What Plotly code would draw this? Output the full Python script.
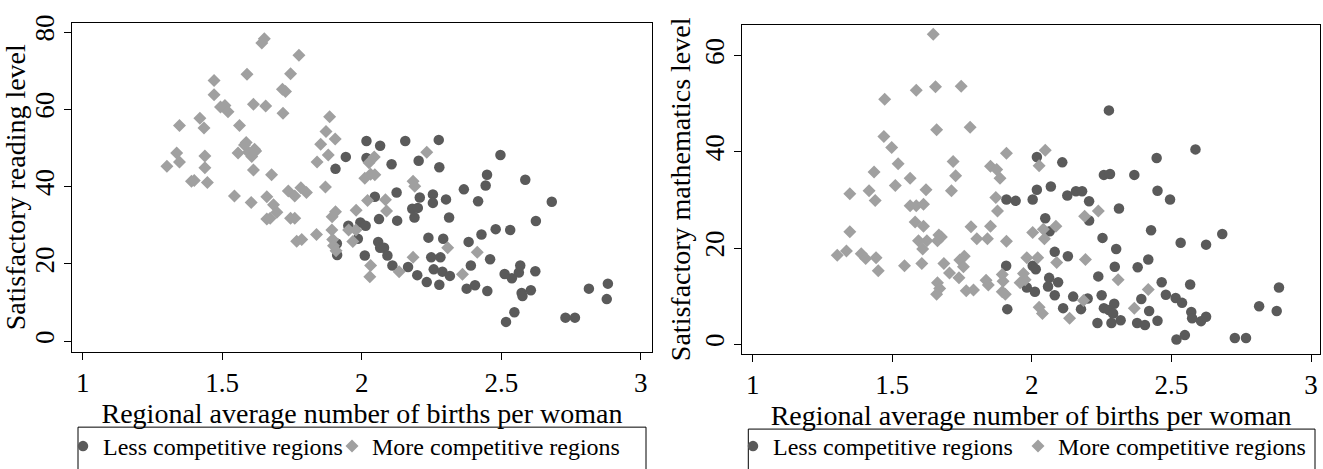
import plotly.graph_objects as go

# ---------------- Data: left panel (reading) ----------------
read_less_x = [1.906, 1.943, 1.911, 1.912, 2.017, 2.017, 2.066, 2.156, 2.276, 2.107, 2.204, 2.278,
               2.497, 2.449, 2.444, 2.586, 2.366, 2.417, 2.681, 2.624, 2.047, 2.125, 2.208, 2.255,
               2.255, 2.302, 2.181, 2.201, 2.189, 2.062, 2.127, 2.313, 1.952, 1.995, 2.014, 1.986,
               2.059, 2.066, 2.080, 2.092, 2.011, 2.239, 2.292, 2.383, 2.429, 2.480, 2.532, 2.249,
               2.282, 2.460, 2.110, 2.166, 2.199, 2.258, 2.289, 2.316, 2.233, 2.278, 2.391, 2.376,
               2.406, 2.450, 2.568, 2.512, 2.538, 2.563, 2.622, 2.606, 2.573, 2.576, 2.547, 2.517,
               2.730, 2.764, 2.814, 2.882, 2.878]
read_less_y = [44.6, 47.7, 25.3, 22.3, 51.8, 47.4, 50.6, 51.8, 52.1, 45.8, 46.7, 45.0,
               48.2, 43.1, 40.3, 41.8, 39.3, 36.2, 36.1, 31.1, 37.4, 38.5, 37.2, 38.0,
               35.8, 36.7, 34.3, 34.5, 32.0, 31.6, 31.2, 32.0, 29.9, 30.7, 29.9, 26.5,
               25.7, 24.2, 24.2, 22.2, 22.2, 26.8, 26.5, 25.7, 27.6, 29.0, 28.8, 21.7,
               21.7, 21.2, 19.6, 19.2, 17.1, 18.6, 18.0, 16.9, 15.3, 14.6, 19.6, 13.6,
               14.5, 13.0, 19.6, 17.4, 16.3, 17.8, 18.1, 13.2, 12.5, 11.7, 7.5, 5.0,
               6.1, 6.1, 13.6, 14.9, 10.9]

read_more_x = [1.302, 1.337, 1.347, 1.347, 1.390, 1.400, 1.420, 1.435, 1.438, 1.438, 1.447, 1.471,
               1.471, 1.494, 1.510, 1.521, 1.562, 1.544, 1.557, 1.589, 1.586, 1.594, 1.606, 1.612,
               1.612, 1.604, 1.616, 1.580, 1.620, 1.642, 1.651, 1.656, 1.660, 1.660, 1.677, 1.684,
               1.696, 1.672, 1.718, 1.716, 1.727, 1.745, 1.737, 1.745, 1.760, 1.760, 1.775, 1.782,
               1.802, 1.767, 1.785, 1.838, 1.840, 1.853, 1.872, 1.885, 1.905, 1.880, 1.870, 1.906,
               1.894, 1.893, 1.896, 1.899, 1.908, 1.980, 1.968, 1.953, 1.979, 2.011, 2.021, 2.026,
               2.045, 2.032, 2.047, 2.032, 2.029, 2.085, 2.089, 2.134, 2.184, 2.190, 2.184, 2.233,
               2.308, 2.361, 2.414]
read_more_y = [45.3, 48.7, 55.8, 46.4, 41.4, 41.6, 57.7, 55.2, 47.9, 44.9, 41.1, 67.5,
               63.8, 60.6, 61.0, 59.4, 55.8, 37.6, 48.7, 69.1, 51.4, 48.9, 47.8, 61.3,
               44.3, 35.9, 49.7, 50.8, 49.2, 77.2, 78.3, 60.9, 37.4, 31.6, 43.1, 35.3,
               33.4, 31.8, 59.0, 65.2, 64.6, 69.2, 38.9, 31.8, 31.8, 37.6, 74.0, 39.7,
               38.5, 25.9, 26.3, 27.6, 46.4, 51.0, 54.3, 58.1, 52.3, 48.2, 39.9, 33.5,
               32.2, 28.8, 26.3, 24.7, 23.4, 33.9, 25.8, 28.8, 28.8, 42.2, 36.4, 46.2,
               47.7, 43.2, 43.1, 19.6, 16.7, 36.6, 33.7, 18.0, 41.4, 40.1, 21.7, 48.9,
               24.2, 17.3, 23.0]

# ---------------- Data: right panel (mathematics) ----------------
math_less_x = [1.909, 1.942, 1.908, 1.912, 2.018, 2.109, 2.018, 2.003, 2.068, 2.127, 2.158, 2.180,
               2.205, 2.258, 2.280, 2.276, 2.367, 2.447, 2.450, 2.495, 2.586, 2.312, 2.048, 2.064,
               2.205, 2.427, 2.682, 2.533, 2.624, 2.253, 2.302, 2.082, 2.129, 2.003, 2.014, 2.297,
               2.379, 2.417, 2.062, 2.094, 2.058, 2.238, 2.465, 2.567, 1.982, 2.011, 2.082, 2.148,
               2.200, 2.250, 2.392, 2.480, 2.515, 2.538, 2.112, 2.176, 2.258, 2.276, 2.295, 2.291,
               2.318, 2.235, 2.285, 2.420, 2.377, 2.405, 2.450, 2.571, 2.574, 2.606, 2.624, 2.518,
               2.548, 2.727, 2.767, 2.814, 2.877, 2.885]
math_less_y = [30.1, 29.8, 16.3, 7.3, 38.9, 37.8, 32.1, 30.1, 32.8, 30.9, 31.8, 31.8,
               29.7, 35.2, 35.4, 48.6, 35.2, 38.7, 31.9, 30.1, 40.5, 28.2, 26.2, 23.5,
               25.7, 23.7, 22.9, 21.1, 20.7, 22.1, 19.8, 19.2, 18.3, 16.3, 15.6, 16.1,
               16.0, 17.6, 13.8, 12.9, 12.0, 14.1, 12.9, 12.4, 11.8, 10.9, 10.2, 9.9,
               9.5, 10.2, 9.4, 10.3, 9.6, 8.6, 7.5, 7.3, 7.5, 7.1, 8.4, 6.4,
               5.0, 4.4, 4.4, 6.9, 4.4, 4.0, 4.9, 6.7, 5.4, 4.8, 5.7, 1.0,
               1.9, 1.3, 1.3, 7.9, 6.9, 11.8]

math_more_x = [1.303, 1.336, 1.348, 1.348, 1.389, 1.405, 1.417, 1.439, 1.435, 1.442, 1.450, 1.473,
               1.470, 1.498, 1.521, 1.511, 1.544, 1.564, 1.586, 1.564, 1.586, 1.612, 1.621, 1.582,
               1.612, 1.594, 1.609, 1.606, 1.624, 1.647, 1.655, 1.659, 1.667, 1.676, 1.662, 1.662,
               1.670, 1.659, 1.685, 1.705, 1.718, 1.727, 1.712, 1.739, 1.747, 1.742, 1.758, 1.755,
               1.779, 1.782, 1.765, 1.791, 1.803, 1.841, 1.852, 1.836, 1.844, 1.852, 1.874, 1.886,
               1.871, 1.877, 1.909, 1.909, 1.894, 1.897, 1.894, 1.905, 1.958, 1.970, 1.976, 1.982,
               2.003, 2.026, 2.021, 2.041, 2.048, 2.045, 2.026, 2.038, 2.086, 2.089, 2.135, 2.189,
               2.192, 2.185, 2.238, 2.309, 2.367, 2.417]
math_more_y = [18.5, 19.4, 31.3, 23.4, 18.8, 17.8, 31.9, 29.9, 35.8, 18.0, 15.3, 50.9,
               43.2, 40.9, 37.5, 33.0, 16.3, 34.5, 52.8, 28.8, 28.8, 29.1, 32.1, 25.4,
               24.5, 21.5, 19.8, 16.8, 21.5, 64.4, 53.5, 44.6, 22.7, 22.3, 21.5, 12.8,
               11.6, 10.4, 16.8, 14.8, 38.0, 35.0, 31.9, 13.8, 53.6, 17.5, 18.3, 16.1,
               45.1, 24.4, 11.1, 11.3, 21.9, 21.9, 24.5, 13.3, 12.3, 37.0, 36.3, 34.5,
               30.5, 27.7, 39.7, 21.4, 14.5, 13.1, 10.9, 10.4, 12.8, 14.7, 13.4, 18.0,
               23.2, 37.1, 18.0, 23.9, 40.3, 21.9, 7.7, 6.4, 24.5, 17.0, 5.4, 26.6,
               17.6, 9.1, 27.7, 13.4, 7.5, 11.4]

x_ticks = [1, 1.5, 2, 2.5, 3]
x_ticklabels = ["1", "1.5", "2", "2.5", "3"]
read_yticks = [0, 20, 40, 60, 80]
math_yticks = [0, 20, 40, 60]

LABEL_LESS = "Less competitive regions"
LABEL_MORE = "More competitive regions"
X_TITLE = "Regional average number of births per woman"

DARK = "rgb(90,90,90)"
LIGHT = "rgb(160,160,160)"
FONT = "Liberation Serif"
W, H = 1323, 469

def px_x(p):
    return p / W

def px_y(p):
    return 1 - p / H

fig = go.Figure()

panels = [
    (read_less_x, read_less_y, read_more_x, read_more_y, "x", "y", "legend", "legend2"),
    (math_less_x, math_less_y, math_more_x, math_more_y, "x2", "y2", "legend3", "legend4"),
]
for lx, ly, mx, my, xa, ya, lg1, lg2 in panels:
    fig.add_trace(go.Scatter(x=lx, y=ly, mode="markers", name=LABEL_LESS, showlegend=True,
                             marker=dict(symbol="circle", size=10.5, color=DARK),
                             xaxis=xa, yaxis=ya, legend=lg1))
    fig.add_trace(go.Scatter(x=mx, y=my, mode="markers", name=LABEL_MORE, showlegend=True,
                             marker=dict(symbol="diamond", size=10, color=LIGHT),
                             xaxis=xa, yaxis=ya, legend=lg2))

axis_common = dict(showline=True, linecolor="black", linewidth=1, mirror=True,
                   ticks="outside", ticklen=7, tickcolor="black", showgrid=False,
                   zeroline=False, tickfont=dict(family=FONT, size=27, color="black"))

fig.update_layout(
    width=W, height=H,
    margin=dict(l=0, r=0, t=0, b=0),
    paper_bgcolor="white", plot_bgcolor="white",
    font=dict(family=FONT, color="black"),
    showlegend=True,
    xaxis=dict(domain=[px_x(72.3), px_x(651.7)], range=[0.963, 3.039], anchor="y",
               tickvals=x_ticks, ticktext=x_ticklabels,
               title=dict(text=X_TITLE, font=dict(family=FONT, size=28), standoff=0),
               **axis_common),
    yaxis=dict(domain=[px_y(355), px_y(15.3)], range=[-2.7, 82.4], anchor="x",
               tickvals=read_yticks, tickangle=-90,
               title=dict(text="Satisfactory reading level", font=dict(family=FONT, size=28), standoff=0),
               **axis_common),
    xaxis2=dict(domain=[px_x(742.3), px_x(1320)], range=[0.963, 3.032], anchor="y2",
                tickvals=x_ticks, ticktext=x_ticklabels,
                title=dict(text=X_TITLE, font=dict(family=FONT, size=28), standoff=0),
                **axis_common),
    yaxis2=dict(domain=[px_y(357.3), px_y(17.3)], range=[-2.0, 66.4], anchor="x2",
                tickvals=math_yticks, tickangle=-90,
                title=dict(text="Satisfactory mathematics level", font=dict(family=FONT, size=28), standoff=0),
                **axis_common),
)

leg_common = dict(bgcolor="rgba(0,0,0,0)", borderwidth=0, xanchor="left", yanchor="middle",
                  font=dict(family=FONT, size=24, color="black"), orientation="h", visible=True)
fig.update_layout(
    legend=dict(x=px_x(63), y=px_y(453), **leg_common),
    legend2=dict(x=px_x(332), y=px_y(453), **leg_common),
    legend3=dict(x=px_x(733), y=px_y(453), **leg_common),
    legend4=dict(x=px_x(1018), y=px_y(453), **leg_common),
)

# legend frames (as in the original, cut by the bottom edge)
for x0, x1, y0 in [(78, 646, 433), (748.3, 1315, 435)]:
    fig.add_shape(type="rect", xref="paper", yref="paper",
                  x0=px_x(x0), x1=px_x(x1), y0=px_y(y0), y1=px_y(490),
                  line=dict(color="black", width=1), fillcolor="rgba(0,0,0,0)")

fig.write_html("out.html")
